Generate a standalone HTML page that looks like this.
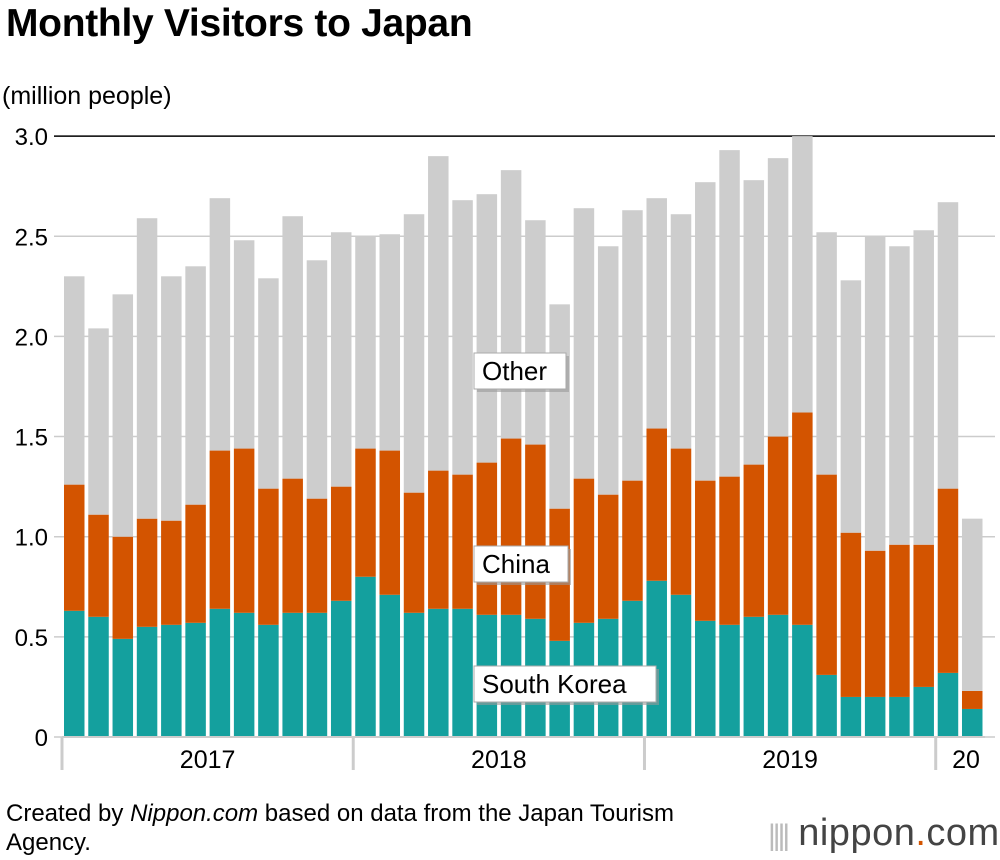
<!DOCTYPE html>
<html><head><meta charset="utf-8">
<style>
body{margin:0;background:#fff;font-family:"Liberation Sans",Arial,sans-serif;}
#wrap{position:relative;width:1000px;height:860px;overflow:hidden;}
.title{position:absolute;left:6px;top:2px;font-size:39px;font-weight:bold;color:#000;letter-spacing:-0.3px}
.unit{position:absolute;left:2px;top:82px;font-size:25px;color:#000}
.foot{position:absolute;left:6px;top:799px;font-size:24px;line-height:29px;color:#000}
.logo{position:absolute;left:768px;top:812px;font-size:38px;color:#444;letter-spacing:0.5px}
</style></head><body>
<div id="wrap">
<div class="title">Monthly Visitors to Japan</div>
<div class="unit">(million people)</div>
<svg id="chart" width="1000" height="860" style="position:absolute;left:0;top:0"></svg>
<div class="foot">Created by <i>Nippon.com</i> based on data from the Japan Tourism<br>Agency.</div>
<div class="logo"><span style="color:#bbb;letter-spacing:-3px;font-size:30px">||||</span> nippon<span style="color:#d35400">.</span>com</div>
</div>
<script>
const months = ["2017-01","2017-02","2017-03","2017-04","2017-05","2017-06","2017-07","2017-08","2017-09","2017-10","2017-11","2017-12","2018-01","2018-02","2018-03","2018-04","2018-05","2018-06","2018-07","2018-08","2018-09","2018-10","2018-11","2018-12","2019-01","2019-02","2019-03","2019-04","2019-05","2019-06","2019-07","2019-08","2019-09","2019-10","2019-11","2019-12","2020-01","2020-02"];
const korea = [0.63,0.60,0.49,0.55,0.56,0.57,0.64,0.62,0.56,0.62,0.62,0.68, 0.80,0.71,0.62,0.64,0.64,0.61,0.61,0.59,0.48,0.57,0.59,0.68, 0.78,0.71,0.58,0.56,0.60,0.61,0.56,0.31,0.20,0.20,0.20,0.25, 0.32,0.14];
const koreaChina = [1.26,1.11,1.00,1.09,1.08,1.16,1.43,1.44,1.24,1.29,1.19,1.25, 1.44,1.43,1.22,1.33,1.31,1.37,1.49,1.46,1.14,1.29,1.21,1.28, 1.54,1.44,1.28,1.30,1.36,1.50,1.62,1.31,1.02,0.93,0.96,0.96, 1.24,0.23];
const total = [2.30,2.04,2.21,2.59,2.30,2.35,2.69,2.48,2.29,2.60,2.38,2.52, 2.50,2.51,2.61,2.90,2.68,2.71,2.83,2.58,2.16,2.64,2.45,2.63, 2.69,2.61,2.77,2.93,2.78,2.89,3.00,2.52,2.28,2.50,2.45,2.53, 2.67,1.09];
const yTicks = ["0","0.5","1.0","1.5","2.0","2.5","3.0"];
const yearLabels = ["2017","2018","2019","20"];

const svg=document.getElementById('chart');
const NS="http://www.w3.org/2000/svg";
const y0=737, pxPer=200.3, x0=64, step=24.27, bw=20.5;
const y=v=>y0-v*pxPer;
const x=i=>x0+i*step;
function mk(tag,attrs){const e=document.createElementNS(NS,tag);for(const k in attrs)e.setAttribute(k,attrs[k]);svg.appendChild(e);return e;}

yTicks.forEach((t,i)=>{
  const v=parseFloat(t);
  const l=mk('line',{x1:54,x2:995,y1:y(v),y2:y(v),stroke:i==6?'#000':'#ccc','stroke-width':1.5});
  
  
  const tx=mk('text',{x:48,y:y(v)+9,'text-anchor':'end','font-size':24,fill:'#000','font-family':'Liberation Sans, sans-serif'});
  tx.textContent=t;
  
  
});

months.forEach((m,i)=>{
  const segs=[[0,korea[i],'#14a09e','korea'],[korea[i],koreaChina[i],'#d35400','china'],[koreaChina[i],total[i],'#cdcdcd','other']];
  segs.forEach(s=>{
    const r=mk('rect',{x:x(i),y:y(s[1]),width:bw,height:y(s[0])-y(s[1]),fill:s[2]});
    
    
  });
});

const ax=mk('line',{x1:62,x2:985,y1:y0,y2:y0,stroke:'#ccc','stroke-width':2});


[0,12,24,36].forEach((idx,k)=>{
  const sx=x(idx)-2;
  const t=mk('line',{x1:sx,x2:sx,y1:y0,y2:770,stroke:'#ccc','stroke-width':3});
  
  
  const end=k<3?x(idx+12)-2:985;
  const lab=mk('text',{x:k<3?(sx+end)/2:966,y:768,'text-anchor':'middle','font-size':25,fill:'#000','font-family':'Liberation Sans, sans-serif'});
  lab.textContent=yearLabels[k];
  
  
});

function label(txt,lx,ly,w,name){
  const sh=mk('rect',{x:lx+3,y:ly+3,width:w,height:36,fill:'#999',opacity:0.6});
  
  
  const b=mk('rect',{x:lx,y:ly,width:w,height:36,fill:'#fff',stroke:'#aaa','stroke-width':1});
  
  
  const t=mk('text',{x:lx+8,y:ly+27,'font-size':26,fill:'#000','font-family':'Liberation Sans, sans-serif'});
  t.textContent=txt;
  
  
}
label('Other',474,353,92,'label-other');
label('China',474,546,94,'label-china');
label('South Korea',474,666,182,'label-south-korea');
</script>
</body></html>
